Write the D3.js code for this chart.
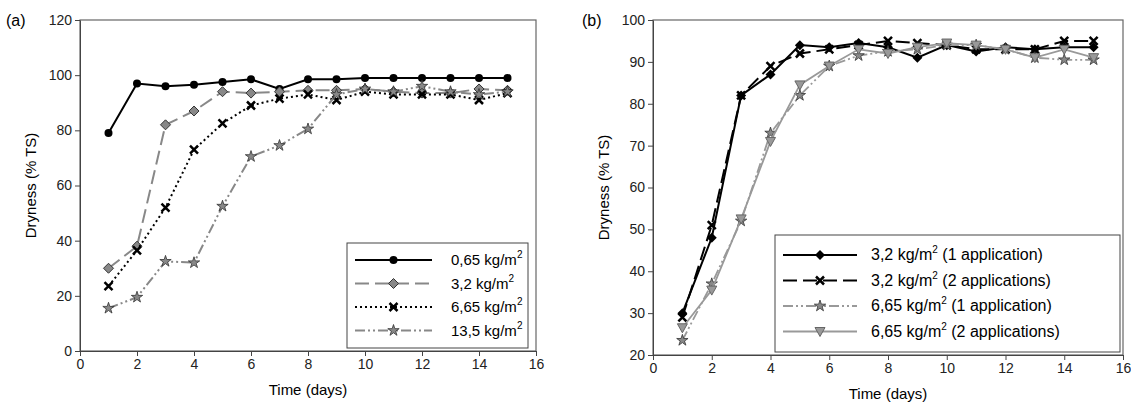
<!DOCTYPE html><html><head><meta charset="utf-8"><script src="https://cdn.jsdelivr.net/npm/d3@7"></script>
<style>body{margin:0;background:#fff}text{font-family:Arial,"Liberation Sans",sans-serif}</style></head><body>
<svg id="c" width="1131" height="419"></svg>
<script>
const days=[1,2,3,4,5,6,7,8,9,10,11,12,13,14,15];
const a065=[79,97,96,96.5,97.5,98.5,95,98.5,98.5,99,99,99,99,99,99];
const a32=[30,38,82,87,94,93.5,94,94.5,94.5,95,94,93.5,93.5,95,94.5];
const a665=[23.5,36.5,52,73,82.5,89,91.5,93,91,94,93,93,93,91,93.5];
const a135=[15.5,19.5,32.5,32,52.5,70.5,74.5,80.5,93,95,94,96,94,93,94];
const b32_1=[30,48,82,87,94,93.5,94.5,93.5,91,94,92.5,93.5,93,93.5,93.5];
const b32_2=[29,51,82,89,92,93,94,95,94.5,94,93,93,93,95,95];
const b665_1=[23.5,37,52,73,82,89,91.5,92.5,93,94,94,93,91,90.5,90.5];
const b665_2=[26.5,35.5,52.5,71,84.5,89,93,92,93.5,94.5,94,93,91,93,91];
const xTicks=[0,2,4,6,8,10,12,14,16];
const svg=d3.select("#c");
const star=d3.symbol().type(d3.symbolStar).size(40);
const mk={
 circle:g=>g.append("circle").attr("r",4).attr("fill","#000"),
 diamond:g=>g.append("path").attr("d","M0,-5L5,0L0,5L-5,0Z").attr("fill","#888").attr("stroke","#333"),
 diamondB:g=>g.append("path").attr("d","M0,-5L5,0L0,5L-5,0Z").attr("fill","#000"),
 cross:g=>g.append("path").attr("d","M-4,-4L4,4M-4,4L4,-4").attr("stroke","#000").attr("stroke-width",2.5),
 star:g=>g.append("path").attr("d",star()).attr("fill","#888").attr("stroke","#333").attr("stroke-width",0.8),
 tri:g=>g.append("path").attr("d","M-5,-4L5,-4L0,5Z").attr("fill","#999").attr("stroke","#666")
};
function panel(o){
 const x=d3.scaleLinear().domain([0,16]).range([o.x0,o.x1]);
 const y=d3.scaleLinear().domain(o.yd).range([o.y1,o.y0]);
 const g=svg.append("g");
 g.append("rect").attr("x",o.x0).attr("y",o.y0).attr("width",o.x1-o.x0).attr("height",o.y1-o.y0).attr("fill","none").attr("stroke","#666").attr("stroke-width",1.2);
 const ax=g.append("g").attr("transform",`translate(0,${o.y1})`).call(d3.axisBottom(x).tickValues(xTicks).tickSize(5).tickSizeOuter(0));
 const ay=g.append("g").attr("transform",`translate(${o.x0},0)`).call(d3.axisLeft(y).tickValues(o.yt).tickSize(5).tickSizeOuter(0));
 [ax,ay].forEach(a=>{a.selectAll("text").attr("font-size",14).attr("fill","#222");a.select(".domain").attr("stroke","#444");a.selectAll("line").attr("stroke","#444");});
 g.append("text").attr("x",(o.x0+o.x1)/2).attr("y",o.y1+44).attr("text-anchor","middle").attr("font-size",15).text("Time (days)");
 g.append("text").attr("transform",`translate(${o.x0-44},${(o.y0+o.y1)/2}) rotate(-90)`).attr("text-anchor","middle").attr("font-size",15).text("Dryness (% TS)");
 g.append("text").attr("x",o.lx).attr("y",o.y0+6).attr("font-size",16).text(o.lab);
 const line=d3.line().x((d,i)=>x(days[i])).y(d=>y(d));
 o.series.forEach(s=>{
  g.append("path").attr("d",line(s.v)).attr("fill","none").attr("stroke",s.c).attr("stroke-width",s.w).attr("stroke-dasharray",s.d);
  s.v.forEach((v,i)=>mk[s.m](g.append("g").attr("transform",`translate(${x(days[i])},${y(v)})`)));
 });
 const L=o.leg;
 g.append("rect").attr("x",L.x).attr("y",L.y).attr("width",L.w).attr("height",L.h).attr("fill","#fff").attr("stroke","#444");
 o.series.forEach((s,i)=>{
  const yy=L.y+L.dy0+i*L.dy;
  g.append("line").attr("x1",L.x+8).attr("x2",L.x+L.ll).attr("y1",yy).attr("y2",yy).attr("stroke",s.c).attr("stroke-width",s.w).attr("stroke-dasharray",s.d);
  mk[s.m](g.append("g").attr("transform",`translate(${L.x+8+(L.ll-8)/2},${yy})`));
  const t=g.append("text").attr("x",L.x+L.tx).attr("y",yy+5).attr("font-size",L.fs);
  t.append("tspan").text(s.n[0]);
  t.append("tspan").attr("dy",-7).attr("font-size",10).text("2");
  t.append("tspan").attr("dy",7).text(s.n[1]);
 });
}
panel({x0:80,x1:536,y0:20,y1:351,yd:[0,120],yt:[0,20,40,60,80,100,120],lab:"(a)",lx:6,
 leg:{x:347,y:243,w:181,h:105,tx:104,ll:85,dy0:17,dy:23.5,fs:15},
 series:[
  {v:a065,n:["0,65 kg/m",""],c:"#000",w:2,d:null,m:"circle"},
  {v:a32,n:["3,2 kg/m",""],c:"#888",w:2,d:"14,6",m:"diamond"},
  {v:a665,n:["6,65 kg/m",""],c:"#000",w:2,d:"2,3",m:"cross"},
  {v:a135,n:["13,5 kg/m",""],c:"#888",w:2,d:"10,3,2,3,2,3",m:"star"}]});
panel({x0:653,x1:1123,y0:20,y1:355,yd:[20,100],yt:[20,30,40,50,60,70,80,90,100],lab:"(b)",lx:582,
 leg:{x:775,y:235,w:345,h:117,tx:96,ll:82,dy0:20,dy:25.5,fs:16},
 series:[
  {v:b32_1,n:["3,2 kg/m"," (1 application)"],c:"#000",w:2,d:null,m:"diamondB"},
  {v:b32_2,n:["3,2 kg/m"," (2 applications)"],c:"#000",w:2,d:"14,6",m:"cross"},
  {v:b665_1,n:["6,65 kg/m"," (1 application)"],c:"#999",w:1.8,d:"10,3,2,3,2,3",m:"star"},
  {v:b665_2,n:["6,65 kg/m"," (2 applications)"],c:"#999",w:1.8,d:null,m:"tri"}]});
</script></body></html>
